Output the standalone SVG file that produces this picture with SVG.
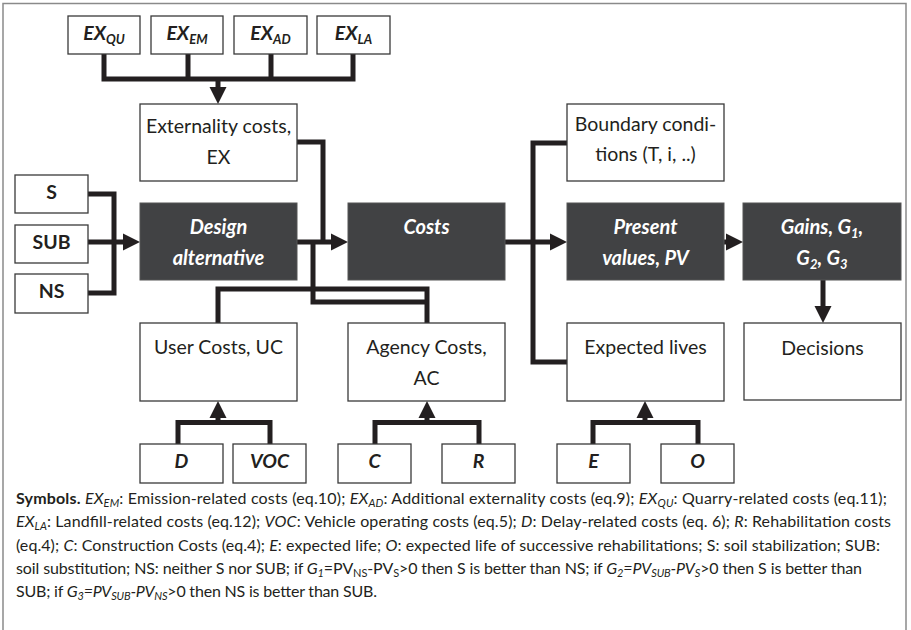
<svg xmlns="http://www.w3.org/2000/svg" width="911" height="630" viewBox="0 0 911 630">
<style>
.frame{fill:#fff;stroke:#8a8a8a;stroke-width:1.5}
.box{fill:#fff;stroke:#3a3a3a;stroke-width:1.3}
.dark{fill:#414244;stroke:#555;stroke-width:1}
.t{font-family:Lato,"Open Sans","Liberation Sans",sans-serif;font-size:19.5px;fill:#231f20;text-anchor:middle}
.tb{font-family:Lato,"Open Sans","Liberation Sans",sans-serif;font-size:19.5px;fill:#231f20;text-anchor:middle;font-weight:bold}
.tbi{font-family:Lato,"Open Sans","Liberation Sans",sans-serif;font-size:19.5px;fill:#231f20;text-anchor:middle;font-weight:bold;font-style:italic}
.tw{font-family:Lato,"Open Sans","Liberation Sans",sans-serif;font-size:20px;fill:#fff;text-anchor:middle;font-weight:bold;font-style:italic}
.cap{font-family:Lato,"Open Sans","Liberation Sans",sans-serif;font-size:16px;fill:#231f20}
.i{font-style:italic}
.b{font-weight:bold}
.conn{fill:none;stroke:#231f20;stroke-width:5;stroke-linejoin:miter;stroke-linecap:butt}
.arr{fill:none;stroke:#231f20;stroke-width:5;marker-end:url(#ah)}
</style>
<defs>
<marker id="ah" markerUnits="userSpaceOnUse" markerWidth="18" markerHeight="18" refX="0" refY="8.5" orient="auto" overflow="visible">
<path d="M0,0 L17,8.5 L0,17 z" fill="#231f20"/>
</marker>
</defs>
<rect class="frame" x="3" y="3.5" width="903" height="640"/>

<g id="connectors">
<path class="conn" d="M104,54 V79 H353 V54 M188,54 V79 M271,54 V79"/>
<path class="arr" d="M218,79 V87"/>
<path class="conn" d="M88,194 H114 V293 H88"/>
<path class="arr" d="M88,242 H123"/>
<path class="conn" d="M297,142 H323 V242"/>
<path class="arr" d="M297,242 H331"/>
<path class="conn" d="M218,323 V289 H427 V323"/>
<path class="conn" d="M313,242 V302 H427"/>
<path class="arr" d="M505,242 H550"/>
<path class="conn" d="M567,143 H533 V362 H567"/>
<path class="arr" d="M724,242 H726"/>
<path class="arr" d="M823,280 V306"/>
<path class="conn" d="M178,444 V422.5 H270 V444"/>
<path class="arr" d="M218,422.5 V418"/>
<path class="conn" d="M375,444 V422.5 H479 V444"/>
<path class="arr" d="M427,422.5 V418"/>
<path class="conn" d="M593,444 V422.5 H698 V444"/>
<path class="arr" d="M645,422.5 V418"/>
</g>

<g id="ex_qu"><rect class="box" x="68" y="16" width="72" height="38"/><text class="tbi" x="104" y="40">EX<tspan font-size="13" dy="4">QU</tspan></text></g>
<g id="ex_em"><rect class="box" x="151" y="16" width="72" height="38"/><text class="tbi" x="187" y="40">EX<tspan font-size="13" dy="4">EM</tspan></text></g>
<g id="ex_ad"><rect class="box" x="234" y="16" width="73" height="38"/><text class="tbi" x="270.5" y="40">EX<tspan font-size="13" dy="4">AD</tspan></text></g>
<g id="ex_la"><rect class="box" x="317" y="16" width="73" height="38"/><text class="tbi" x="353.5" y="40">EX<tspan font-size="13" dy="4">LA</tspan></text></g>

<g id="externality"><rect class="box" x="140" y="104" width="157" height="77"/><text class="t" x="218.5" y="133">Externality costs,</text><text class="t" x="218.5" y="164">EX</text></g>

<g id="s"><rect class="box" x="15" y="175" width="73" height="38"/><text class="tb" x="51.5" y="199">S</text></g>
<g id="sub"><rect class="box" x="15" y="225" width="73" height="38"/><text class="tb" x="51.5" y="249">SUB</text></g>
<g id="ns"><rect class="box" x="15" y="274" width="73" height="39"/><text class="tb" x="51.5" y="298">NS</text></g>

<g id="design"><rect class="dark" x="140" y="203" width="157" height="77"/><text class="tw" x="218.5" y="234">Design</text><text class="tw" x="218.5" y="265">alternative</text></g>
<g id="costs"><rect class="dark" x="348" y="203" width="157" height="77"/><text class="tw" x="426.5" y="234">Costs</text></g>
<g id="boundary"><rect class="box" x="567" y="104" width="157" height="77"/><text class="t" x="645.5" y="131">Boundary condi-</text><text class="t" x="645.5" y="161">tions (T, i, ..)</text></g>
<g id="pv"><rect class="dark" x="567" y="203" width="157" height="77"/><text class="tw" x="645.5" y="234">Present</text><text class="tw" x="645.5" y="265">values, PV</text></g>
<g id="gains"><rect class="dark" x="743" y="203" width="158" height="77"/><text class="tw" x="822" y="234">Gains, G<tspan font-size="13" dy="4">1</tspan><tspan dy="-4">,</tspan></text><text class="tw" x="822" y="265">G<tspan font-size="13" dy="4">2</tspan><tspan dy="-4">, G</tspan><tspan font-size="13" dy="4">3</tspan></text></g>

<g id="uc"><rect class="box" x="140" y="323" width="157" height="78"/><text class="t" x="218.5" y="354">User Costs, UC</text></g>
<g id="ac"><rect class="box" x="348" y="323" width="157" height="78"/><text class="t" x="426.5" y="354">Agency Costs,</text><text class="t" x="426.5" y="385">AC</text></g>
<g id="lives"><rect class="box" x="567" y="323" width="157" height="78"/><text class="t" x="645.5" y="354">Expected lives</text></g>
<g id="decisions"><rect class="box" x="744" y="323" width="157" height="77"/><text class="t" x="822.5" y="355" font-size="21">Decisions</text></g>

<g id="d"><rect class="box" x="140" y="444" width="83" height="39"/><text class="tbi" x="181.5" y="468">D</text></g>
<g id="voc"><rect class="box" x="233" y="444" width="73" height="39"/><text class="tbi" x="269.5" y="468">VOC</text></g>
<g id="c"><rect class="box" x="338" y="444" width="73" height="39"/><text class="tbi" x="374.5" y="468">C</text></g>
<g id="r"><rect class="box" x="442" y="444" width="73" height="39"/><text class="tbi" x="478.5" y="468">R</text></g>
<g id="e"><rect class="box" x="557" y="444" width="73" height="39"/><text class="tbi" x="593.5" y="468">E</text></g>
<g id="o"><rect class="box" x="661" y="444" width="73" height="39"/><text class="tbi" x="697.5" y="468">O</text></g>

<g id="caption">
<text class="cap" x="16" y="504" textLength="871"><tspan class="b">Symbols.</tspan> <tspan class="i">EX<tspan font-size="11" dy="3">EM</tspan></tspan><tspan dy="-3">: Emission-related costs (eq.10); </tspan><tspan class="i">EX<tspan font-size="11" dy="3">AD</tspan></tspan><tspan dy="-3">: Additional externality costs (eq.9); </tspan><tspan class="i">EX<tspan font-size="11" dy="3">QU</tspan></tspan><tspan dy="-3">: Quarry-related costs (eq.11);</tspan></text>
<text class="cap" x="16" y="527" textLength="875"><tspan class="i">EX<tspan font-size="11" dy="3">LA</tspan></tspan><tspan dy="-3">: Landfill-related costs (eq.12); </tspan><tspan class="i">VOC</tspan>: Vehicle operating costs (eq.5);  <tspan class="i">D</tspan>: Delay-related costs (eq. 6); <tspan class="i">R</tspan>: Rehabilitation costs</text>
<text class="cap" x="16" y="551" textLength="864">(eq.4); <tspan class="i">C</tspan>: Construction Costs (eq.4); <tspan class="i">E</tspan>: expected life; <tspan class="i">O</tspan>: expected life  of successive rehabilitations; S: soil stabilization; SUB:</text>
<text class="cap" x="16" y="574" textLength="846">soil substitution; NS: neither S nor SUB; if <tspan class="i">G<tspan font-size="11" dy="3">1</tspan></tspan><tspan dy="-3">=PV</tspan><tspan font-size="11" dy="3">NS</tspan><tspan dy="-3">-PV</tspan><tspan font-size="11" dy="3">S</tspan><tspan dy="-3">&gt;0 then S is better than NS; if </tspan><tspan class="i">G<tspan font-size="11" dy="3">2</tspan><tspan dy="-3">=PV</tspan><tspan font-size="11" dy="3">SUB</tspan><tspan dy="-3">-PV</tspan><tspan font-size="11" dy="3">S</tspan></tspan><tspan dy="-3">&gt;0 then S is better than</tspan></text>
<text class="cap" x="16" y="597" textLength="361">SUB; if <tspan class="i">G<tspan font-size="11" dy="3">3</tspan><tspan dy="-3">=PV</tspan><tspan font-size="11" dy="3">SUB</tspan><tspan dy="-3">-PV</tspan><tspan font-size="11" dy="3">NS</tspan></tspan><tspan dy="-3">&gt;0 then NS is better than SUB.</tspan></text>
</g>
</svg>
